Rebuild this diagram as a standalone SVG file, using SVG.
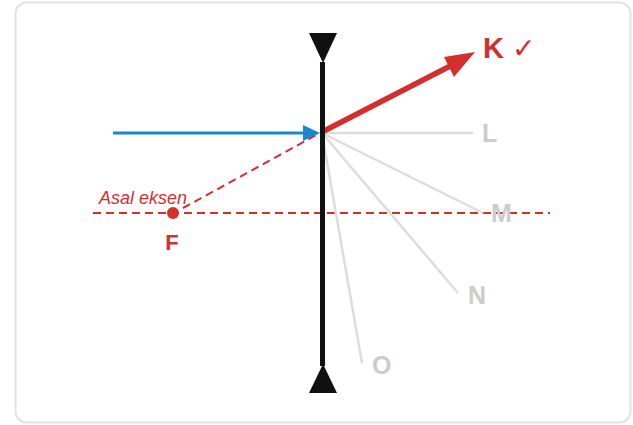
<svg xmlns="http://www.w3.org/2000/svg" width="633" height="425" viewBox="0 0 633 425">
<style>
.ray{stroke:#dddddd;stroke-width:2.5;fill:none}
.lbl{font-family:"Liberation Sans",Arial,sans-serif;font-weight:bold;font-size:25px;fill:#cccccc}
.red{fill:#d32f2f}
.dash{stroke:#d32f2f;stroke-width:2;stroke-dasharray:8 5;fill:none}
</style>
<rect x="15.5" y="2.5" width="615" height="420" rx="11" fill="#ffffff" stroke="#e2e2e2" stroke-width="2"/>
<g id="axis">
<line class="dash" x1="93" y1="213" x2="550" y2="213"/>
<text x="99" y="204" font-family="Liberation Sans,Arial,sans-serif" font-style="italic" font-size="18" class="red">Asal eksen</text>
</g>
<g id="connectors">
<line class="ray" x1="322" y1="133" x2="473" y2="133"/>
<line class="ray" x1="322" y1="133" x2="483" y2="213"/>
<line class="ray" x1="322" y1="133" x2="458" y2="293"/>
<line class="ray" x1="322" y1="133" x2="362" y2="363"/>
<line class="dash" x1="183" y1="208" x2="320" y2="133"/>
<line x1="113" y1="133" x2="306" y2="133" stroke="#1a87d0" stroke-width="3"/>
<path d="M303,125 L320,133 L303,141 Z" fill="#1a87d0"/>
<line x1="322" y1="132" x2="458" y2="62" stroke="#d32f2f" stroke-width="5.5"/>
<path d="M475,52 L454,77 L444,57 Z" fill="#d32f2f"/>
</g>
<g id="lens">
<line x1="322.5" y1="62" x2="322.5" y2="366" stroke="#111111" stroke-width="5"/>
<path d="M309,33 L337,33 L323,63 Z" fill="#111111"/>
<path d="M323,364 L337,393 L309,393 Z" fill="#111111"/>
</g>
<g id="F">
<circle cx="173" cy="213" r="6" class="red"/>
<text x="172" y="250" text-anchor="middle" font-family="Liberation Sans,Arial,sans-serif" font-weight="bold" font-size="22" class="red">F</text>
</g>
<g id="K">
<text x="483" y="58" font-family="Liberation Sans,'DejaVu Sans',sans-serif" font-weight="bold" font-size="29" class="red">K <tspan font-family="'DejaVu Sans',sans-serif" font-weight="bold" font-size="28">✓</tspan></text>
</g>
<g id="L"><text class="lbl" x="482" y="142">L</text></g>
<g id="M"><text class="lbl" x="491" y="222">M</text></g>
<g id="N"><text class="lbl" x="468" y="304">N</text></g>
<g id="O"><text class="lbl" x="372" y="374">O</text></g>
</svg>
